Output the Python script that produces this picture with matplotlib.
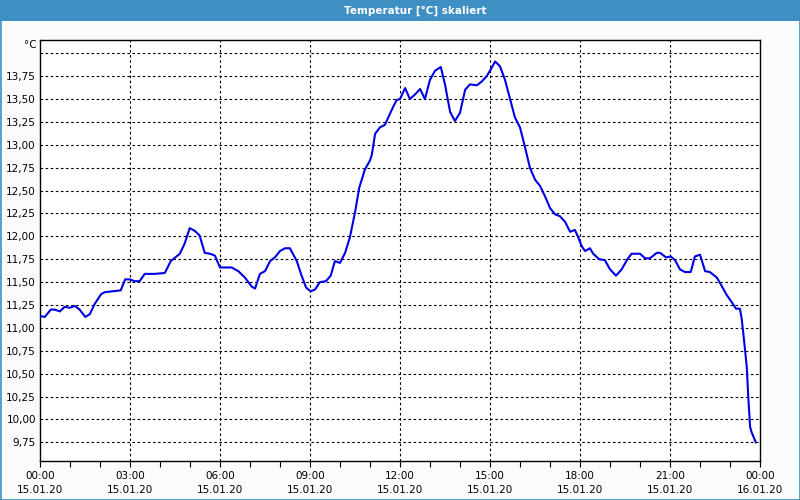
import matplotlib
matplotlib.use("Agg")
import matplotlib.pyplot as plt
from matplotlib.patches import Rectangle
from matplotlib.ticker import MultipleLocator

# ---- data (hours since 15.01.20 00:00, temperature in °C) ----
hours = [0.00, 0.16, 0.36, 0.49, 0.66, 0.82, 0.99, 1.16, 1.32, 1.51, 1.66, 1.82,
         2.04, 2.16, 2.43, 2.69, 2.84, 2.99, 3.16, 3.32, 3.49, 3.82, 4.16, 4.36,
         4.66, 4.82, 4.99, 5.16, 5.32, 5.49, 5.67, 5.83, 6.00, 6.39, 6.61, 6.83,
         7.06, 7.17, 7.33, 7.50, 7.67, 7.83, 8.00, 8.17, 8.33, 8.56, 8.72, 8.87,
         9.02, 9.17, 9.33, 9.53, 9.69, 9.83, 10.00, 10.17, 10.33, 10.50, 10.64, 10.78,
         10.83, 11.00, 11.06, 11.17, 11.33, 11.50, 11.61, 11.78, 11.89, 12.00, 12.17, 12.33,
         12.50, 12.67, 12.83, 13.00, 13.17, 13.36, 13.50, 13.67, 13.83, 14.00, 14.17, 14.33,
         14.56, 14.72, 14.89, 15.02, 15.17, 15.33, 15.50, 15.67, 15.83, 16.00, 16.17, 16.33,
         16.50, 16.67, 16.83, 17.00, 17.17, 17.33, 17.50, 17.67, 17.83, 17.94, 18.06, 18.17,
         18.33, 18.44, 18.64, 18.83, 19.00, 19.20, 19.39, 19.58, 19.72, 20.00, 20.17, 20.33,
         20.56, 20.67, 20.87, 21.02, 21.17, 21.33, 21.50, 21.69, 21.83, 22.00, 22.17, 22.33,
         22.56, 22.72, 22.89, 23.06, 23.20, 23.33, 23.39, 23.47, 23.56, 23.61, 23.67, 23.72,
         23.86]
temps = [11.13, 11.12, 11.20, 11.20, 11.18, 11.23, 11.22, 11.24, 11.20, 11.12, 11.15, 11.26,
         11.37, 11.39, 11.40, 11.41, 11.53, 11.53, 11.51, 11.51, 11.59, 11.59, 11.60, 11.73,
         11.81, 11.92, 12.09, 12.06, 12.01, 11.82, 11.81, 11.79, 11.66, 11.66, 11.62, 11.55,
         11.45, 11.43, 11.59, 11.62, 11.73, 11.77, 11.84, 11.87, 11.87, 11.73, 11.57, 11.44,
         11.40, 11.42, 11.50, 11.51, 11.57, 11.73, 11.71, 11.82, 11.99, 12.26, 12.53, 12.68,
         12.73, 12.83, 12.89, 13.12, 13.19, 13.22, 13.30, 13.42, 13.49, 13.50, 13.62, 13.50,
         13.55, 13.61, 13.50, 13.71, 13.81, 13.85, 13.66, 13.36, 13.26, 13.35, 13.60, 13.66,
         13.65, 13.69, 13.75, 13.82, 13.91, 13.86, 13.71, 13.50, 13.30, 13.19, 12.97, 12.75,
         12.62, 12.55, 12.44, 12.31, 12.24, 12.22, 12.16, 12.05, 12.07, 11.99, 11.89, 11.84,
         11.87, 11.81, 11.75, 11.74, 11.64, 11.57, 11.64, 11.75, 11.81, 11.81, 11.76, 11.76,
         11.82, 11.82, 11.77, 11.78, 11.74, 11.64, 11.61, 11.61, 11.78, 11.80, 11.62, 11.61,
         11.55, 11.46, 11.36, 11.28, 11.21, 11.21, 11.10, 10.86, 10.57, 10.24, 9.92, 9.86,
         9.75]

x_ticks = [0, 3, 6, 9, 12, 15, 18, 21, 24]
x_tick_labels = ["00:00\n15.01.20", "03:00\n15.01.20", "06:00\n15.01.20",
                 "09:00\n15.01.20", "12:00\n15.01.20", "15:00\n15.01.20",
                 "18:00\n15.01.20", "21:00\n15.01.20", "00:00\n16.01.20"]
y_ticks = [9.75, 10.00, 10.25, 10.50, 10.75, 11.00, 11.25, 11.50, 11.75,
           12.00, 12.25, 12.50, 12.75, 13.00, 13.25, 13.50, 13.75]
y_tick_labels = [f"{v:.2f}".replace(".", ",") for v in y_ticks]
grid_y = y_ticks + [14.00]
title = "Temperatur [°C] skaliert"
unit = "°C"

plt.rcParams['font.family'] = ['DejaVu Sans']

fig = plt.figure(figsize=(8, 5), dpi=100)
fig.patch.set_facecolor("#f9fcfb")

# title bar and border
fig.patches.append(Rectangle((0, 1 - 20.5 / 500), 1, 20.5 / 500, transform=fig.transFigure,
                             facecolor="#3d8fc4", edgecolor="none", zorder=0))
fig.patches.append(Rectangle((0.5 / 800, 0.5 / 500), 1 - 1 / 800, 1 - 1 / 500,
                             transform=fig.transFigure, facecolor="none",
                             edgecolor="#3d8fc4", linewidth=1.2, zorder=0))
fig.text(415 / 800, 1 - 10.5 / 500, title, color="white", fontsize=7.5,
         fontweight="bold", ha="center", va="center")

ax = fig.add_axes([40 / 800, 1 - 461 / 500, 720 / 800, 421 / 500])
ax.set_facecolor("white")
ax.plot(hours, temps, color="#0000e6", linewidth=1.5, zorder=3)

ax.set_xlim(0, 24)
ax.set_ylim(9.546, 14.145)

ax.set_xticks(x_ticks)
ax.set_xticklabels(x_tick_labels, fontsize=7.5, linespacing=1.45)
ax.xaxis.set_minor_locator(MultipleLocator(1))
ax.tick_params(axis="x", which="both", length=4, width=0.8, direction="out", pad=3.5)
ax.set_yticks(y_ticks)
ax.set_yticklabels(y_tick_labels, fontsize=7.5)
ax.tick_params(axis="y", length=0, pad=3)

for v in grid_y:
    ax.axhline(v, color="black", linewidth=0.8, linestyle=(0, (2.3, 2.3)), zorder=1)
for h in x_ticks[1:-1]:
    ax.axvline(h, color="black", linewidth=0.8, linestyle=(0, (2.3, 2.3)), zorder=1)

for s in ax.spines.values():
    s.set_linewidth(1.0)
    s.set_color("black")

fig.text(37 / 800, 1 - 45 / 500, unit, fontsize=7.5, ha="right", va="center")

fig.savefig("out.png", dpi=100, facecolor=fig.get_facecolor())
